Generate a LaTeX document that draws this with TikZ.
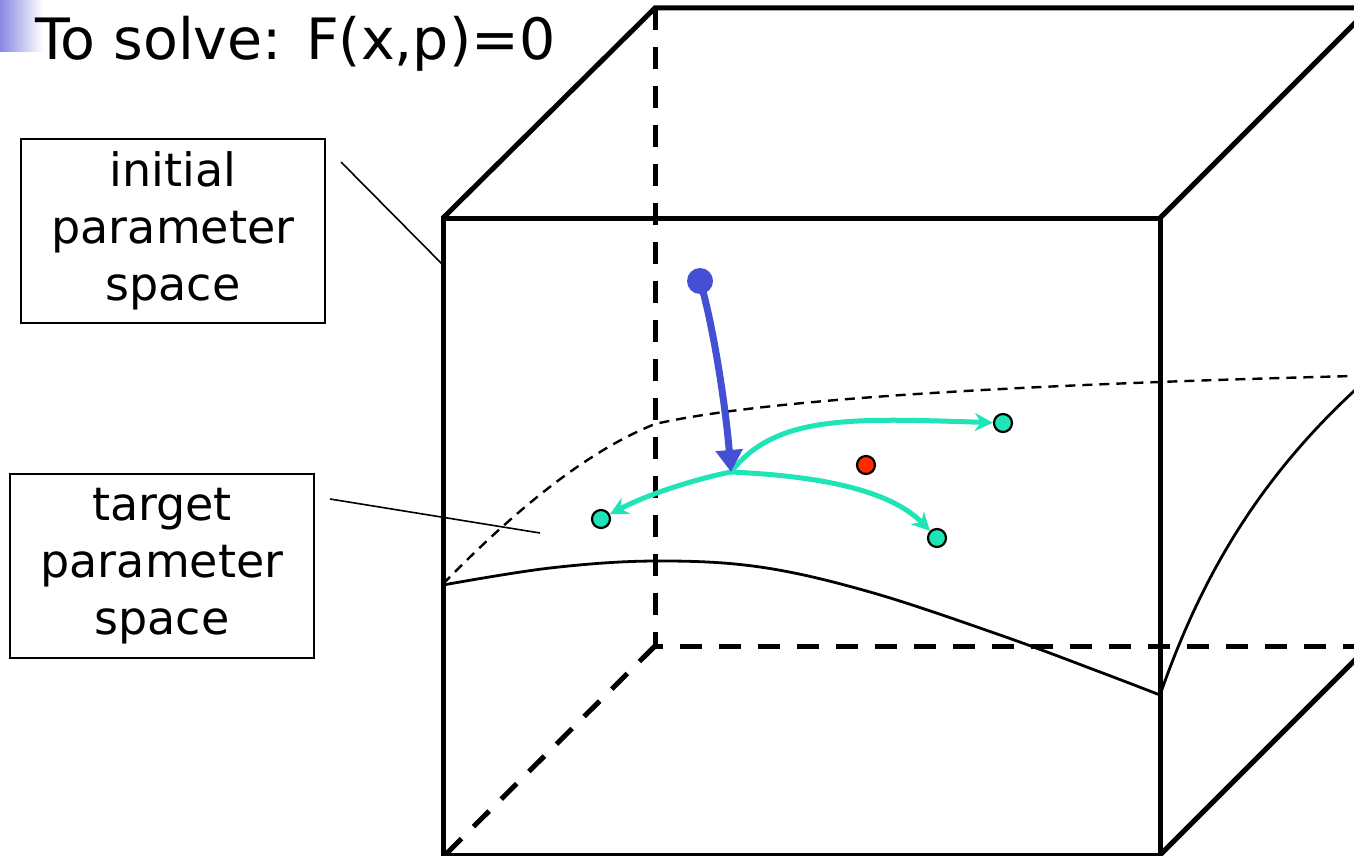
\documentclass[tikz,border=0pt]{standalone}
\usepackage{fontspec}
\setmainfont{DejaVu Sans}
\usepackage{tikz}
\usetikzlibrary{arrows.meta}
\definecolor{startblue}{RGB}{68,80,212}
\definecolor{trackgreen}{RGB}{30,228,182}
\definecolor{pointred}{RGB}{255,42,0}
\definecolor{cornerblue}{RGB}{136,136,226}

\begin{document}
\begin{tikzpicture}[x=0.5pt, y=-0.5pt,
  face/.style={line width=2.5pt},
  hidden/.style={line width=2.5pt, dash pattern=on 11pt off 8.5pt},
  surf/.style={line width=1.4pt},
  surfhidden/.style={line width=1.2pt, dash pattern=on 5pt off 3.5pt},
  lbox/.style={draw, line width=1pt, align=center, inner sep=0pt,
               font=\fontsize{23}{28.5}\selectfont,
               minimum width=152pt, minimum height=92pt},
  lead/.style={line width=0.8pt},
  sol/.style={circle, draw=black, line width=1.1pt, fill=trackgreen,
              inner sep=0pt, minimum size=9pt},
  track/.style={trackgreen, line width=2.5pt,
                -{Stealth[length=9pt, width=9pt]}}
]
\useasboundingbox (0,0) rectangle (1354,856);
\clip (0,0) rectangle (1354,856);

% corner mark and title
\shade[left color=cornerblue, right color=white] (0,0) rectangle (43,52);
\node[anchor=base west, inner sep=0pt, font=\fontsize{28.5}{34}\selectfont]
  (title) at (35,60) {To solve: F(x,p)=0};

% hidden edges of the box
\draw[hidden] (655,8) -- (655,646) -- (1372,646);
\draw[hidden] (655,646) -- (443,857);

% solution surface
\draw[surfhidden] (443,584) .. controls (520,505) and (590,450) .. (655,424)
  .. controls (760,400) and (1000,385) .. (1354,376);
\draw[surf] plot[smooth, tension=0.6] coordinates
  {(443,585) (550,568) (655,561) (760,567) (870,592) (1000,635)
   (1100,672) (1160,695)};
\draw[surf] (1160,695) .. controls (1200,580) and (1260,470) .. (1380,368);

% visible edges of the box
\draw[face] (443,218) rectangle (1160,855);
\draw[face] (443,218) -- (655,8) -- (1380,8);
\draw[face] (1160,218) -- (1372,6);
\draw[face] (1160,855) -- (1372,643);

% labels
\node[lbox] (initial) at (173,231) {initial\\parameter\\space};
\node[lbox] (target) at (162,566) {target\\parameter\\space};
\coordinate (initialTip) at (443,265);
\coordinate (targetTip) at (540,533);
\draw[lead] ([xshift=7.5pt, yshift=-12pt]initial.north east) -- (initialTip);
\draw[lead] ([xshift=7.5pt, yshift=-13pt]target.north east) -- (targetTip);

% start point and tracked paths
\node[circle, fill=startblue, inner sep=0pt, minimum size=13pt]
  (start) at (700,281) {};
\coordinate (branch) at (731,472);
\node[sol] (solLeft) at (601,519) {};
\node[sol] (solRight) at (1003,423) {};
\node[sol] (solLow) at (937,538) {};
\node[circle, draw=black, line width=1.1pt, fill=pointred, inner sep=0pt,
      minimum size=9pt] (stray) at (866,465) {};

\draw[track] (branch) .. controls (700,478) and (650,493) .. (solLeft);
\draw[track] (branch) .. controls (775,415) and (850,418) .. (solRight);
\draw[track] (branch) .. controls (820,476) and (890,490) .. (solLow);
\draw[startblue, line width=3.5pt, -{Triangle[length=11pt, width=13pt]}]
  (start.center) .. controls (712,320) and (725,400) .. (branch);
\end{tikzpicture}
\end{document}
